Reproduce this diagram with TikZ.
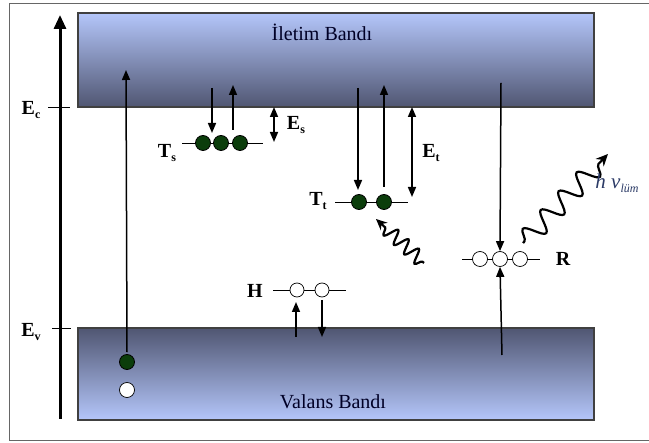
\documentclass[tikz,border=0pt]{standalone}
\usepackage{fontspec}
\setmainfont{Liberation Serif}
\usetikzlibrary{arrows.meta,decorations.pathmorphing,shapes.geometric}
\definecolor{bandlight}{HTML}{B4C6FA}
\definecolor{banddark}{HTML}{505672}
\definecolor{dotgreen}{HTML}{0B3D0B}
\definecolor{photon}{HTML}{2B3A66}
\begin{document}
\begin{tikzpicture}[x=1pt,y=-1pt,
  bandbox/.style={draw=black!75, line width=1.8pt, minimum width=516pt, inner sep=0pt},
  fdot/.style={circle, draw=black, fill=dotgreen, minimum size=15pt, inner sep=0pt, line width=0.8pt},
  edot/.style={circle, draw=black, fill=white, minimum size=15pt, inner sep=0pt, line width=0.7pt},
  arr/.style={-{Triangle[length=10pt,width=8pt]}, line width=1.5pt},
  darr/.style={{Triangle[length=10pt,width=8pt]}-{Triangle[length=10pt,width=8pt]}, line width=1.5pt},
  lvl/.style={line width=0.7pt},
  lbl/.style={font=\fontsize{20}{22}\selectfont\bfseries, inner sep=0pt},
  bandtext/.style={font=\fontsize{20}{24}\selectfont, text=black!85!blue, inner sep=0pt},
  wave/.style={decorate, line width=2.2pt},
]
\useasboundingbox (0,0) rectangle (649,443);
% frame
\draw[black!60, line width=0.8pt] (649,3) -- (9,3) -- (9,440) -- (649,440);
% bands
\node[bandbox, minimum height=94pt, top color=bandlight, bottom color=banddark] (cb) at (336,60) {};
\node[bandbox, minimum height=92pt, top color=banddark, bottom color=bandlight] (vb) at (336,374) {};
\node[bandtext] (cbt) at (322,32) {İletim Bandı};
\node[bandtext] (vbt) at (333,402) {Valans Bandı};
% energy axis
\coordinate (ax0) at (60,419);
\coordinate (ax1) at (60,15);
\draw[line width=3pt, -{Triangle[length=14pt,width=12pt]}] (ax0) -- (ax1);
\coordinate (ec0) at (48,107); \coordinate (ec1) at (70,107);
\draw[lvl] (ec0) -- (ec1);
\coordinate (ev0) at (52,328); \coordinate (ev1) at (71,328);
\draw[lvl] (ev0) -- (ev1);
\node[lbl] (Ec) at (31,110) {E\raisebox{-4pt}{\fontsize{12}{12}\selectfont c}};
\node[lbl] (Ev) at (31,332) {E\raisebox{-4pt}{\fontsize{12}{12}\selectfont v}};
% band-to-band
\node[fdot] (vg) at (127,362) {};
\node[edot] (vw) at (127,390) {};
\coordinate (bt) at (126,70);
\draw[arr] (vg.north) ++(0,-2) -- (bt);
% Ts level
\coordinate (ts0) at (182,143); \coordinate (ts1) at (263,143);
\draw[lvl] (ts0) -- (ts1);
\node[fdot] (s1) at (203,143) {};
\node[fdot] (s2) at (221,143) {};
\node[fdot] (s3) at (240,143) {};
\node[lbl] (Ts) at (167,153) {T\raisebox{-4pt}{\fontsize{12}{12}\selectfont s}};
\coordinate (sa0) at (212,88); \coordinate (sa1) at (212,133);
\draw[arr] (sa0) -- (sa1);
\coordinate (sb0) at (233,130); \coordinate (sb1) at (233,85);
\draw[arr] (sb0) -- (sb1);
\coordinate (es0) at (274,107); \coordinate (es1) at (274,142);
\draw[darr] (es0) -- (es1);
\node[lbl] (Es) at (296,125) {E\raisebox{-4pt}{\fontsize{12}{12}\selectfont s}};
% Tt level
\coordinate (tt0) at (335,202); \coordinate (tt1) at (408,202);
\draw[lvl] (tt0) -- (tt1);
\node[fdot] (t1) at (359,202) {};
\node[fdot] (t2) at (384,202) {};
\node[lbl] (Tt) at (318,201) {T\raisebox{-4pt}{\fontsize{12}{12}\selectfont t}};
\coordinate (ta0) at (358,88); \coordinate (ta1) at (358,190);
\draw[arr] (ta0) -- (ta1);
\coordinate (tb0) at (384,187); \coordinate (tb1) at (384,85);
\draw[arr] (tb0) -- (tb1);
\coordinate (et0) at (412,107); \coordinate (et1) at (412,197);
\draw[darr] (et0) -- (et1);
\node[lbl] (Et) at (431,153) {E\raisebox{-4pt}{\fontsize{12}{12}\selectfont t}};
% incoming wave to Tt
\coordinate (w0) at (424,263); \coordinate (w1) at (376,219);
\draw[wave, decoration={snake, segment length=14pt, amplitude=7pt, pre length=2pt, post length=9pt}, -{Stealth[length=11pt,width=10pt]}] (w0) -- (w1);
% H level
\coordinate (h0) at (273,290); \coordinate (h1) at (346,290);
\draw[lvl] (h0) -- (h1);
\node[edot, minimum size=14pt] (hc1) at (297,290) {};
\node[edot, minimum size=14pt] (hc2) at (322,290) {};
\node[lbl] (H) at (255,291) {H};
\coordinate (ha0) at (296,337); \coordinate (ha1) at (296,302);
\draw[arr] (ha0) -- (ha1);
\coordinate (hb0) at (322,300); \coordinate (hb1) at (322,337);
\draw[arr] (hb0) -- (hb1);
% R level
\coordinate (r0) at (462,259); \coordinate (r1) at (540,259);
\draw[lvl] (r0) -- (r1);
\node[edot] (rc1) at (480,259) {};
\node[edot] (rc2) at (500,259) {};
\node[edot] (rc3) at (520,259) {};
\node[lbl] (R) at (563,259) {R};
\coordinate (ra0) at (501,83);
\draw[arr] (ra0) -- (rc2.north);
\coordinate (rb0) at (502,355);
\draw[arr] (rb0) -- (rc2.south);
% photon
\coordinate (p0) at (523,243); \coordinate (p1) at (608,154);
\draw[wave, decoration={snake, segment length=26pt, amplitude=10pt, pre length=2pt, post length=12pt}, -{Stealth[length=12pt,width=11pt]}] (p0) -- (p1);
\node[text=photon, inner sep=0pt, font=\fontsize{21}{24}\selectfont\itshape] (hv) at (617,183) {h v\raisebox{-4pt}{\fontsize{12}{12}\selectfont lüm}};
\end{tikzpicture}
\end{document}
